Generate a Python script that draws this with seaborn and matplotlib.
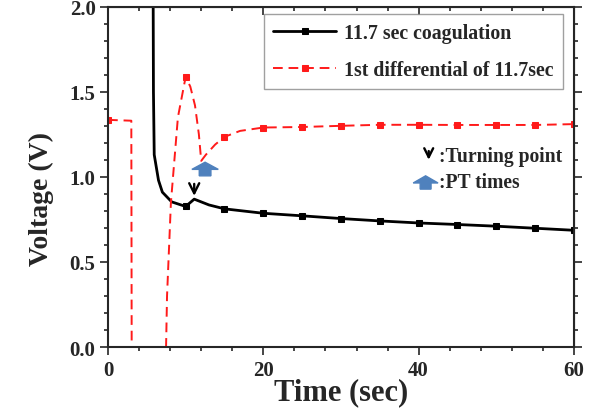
import matplotlib
matplotlib.use("Agg")
import matplotlib.pyplot as plt
import seaborn as sns
from matplotlib.ticker import MultipleLocator, FormatStrFormatter

# 11.7 sec coagulation curve (markers every 5 s from 10 s)
coag_time = [5.75, 5.85, 5.95, 6.5, 7.0, 8.2, 10, 11.1, 13, 15, 20, 25, 30, 35, 40, 45, 50, 55, 60]
coag_volt = [3.0, 1.5, 1.13, 0.98, 0.91, 0.853, 0.826, 0.869, 0.835, 0.812, 0.786, 0.771,
             0.755, 0.741, 0.729, 0.72, 0.71, 0.698, 0.686]
coag_marks = [6, 9, 10, 11, 12, 13, 14, 15, 16, 17, 18]

# 1st differential of the 11.7 sec curve
diff_time = [0, 3.0, 3.1, 6.9, 7.35, 7.6, 8.1, 9.0, 10, 10.6, 11.2, 11.7, 12.0, 12.6, 13.8, 15,
             17, 20, 25, 30, 35, 40, 45, 50, 55, 60]
diff_volt = [1.335, 1.33, -1.5, -1.5, -0.3, 0.3, 0.85, 1.35, 1.588, 1.53, 1.42, 1.25, 1.094,
             1.13, 1.19, 1.235, 1.27, 1.29, 1.293, 1.30, 1.306, 1.306, 1.305, 1.305, 1.305, 1.31]
diff_marks = [0, 8, 15, 17, 18, 19, 20, 21, 22, 23, 24, 25]

sns.set_style("ticks")
plt.rcParams['font.family'] = ['Liberation Serif', 'DejaVu Serif']
plt.rcParams['font.weight'] = 'bold'

fig = plt.figure(figsize=(5.89, 4.10), dpi=100)
ax = fig.add_axes([0.1834, 0.1512, 0.791, 0.830])

sns.lineplot(x=coag_time, y=coag_volt, ax=ax, sort=False, estimator=None, color='black',
             lw=2, marker='s', markersize=5, markevery=coag_marks, mec='black',
             label='11.7 sec coagulation')
sns.lineplot(x=diff_time, y=diff_volt, ax=ax, sort=False, estimator=None, color='#ff1a1a',
             lw=1.4, linestyle=(0, (5, 3)), marker='s', markersize=5, markevery=diff_marks,
             mec='#ff1a1a', label='1st differential of 11.7sec')

ax.set_xlim(0, 60)
ax.set_ylim(0, 2.0)
ax.xaxis.set_major_locator(MultipleLocator(20))
ax.xaxis.set_minor_locator(MultipleLocator(4))
ax.yaxis.set_major_locator(MultipleLocator(0.5))
ax.yaxis.set_minor_locator(MultipleLocator(0.1))
ax.yaxis.set_major_formatter(FormatStrFormatter('%.1f'))
ax.tick_params(which='both', direction='out', width=1.2, labelsize=15, pad=3)
ax.tick_params(which='major', length=6)
ax.tick_params(which='minor', length=3)
for s in ax.spines.values():
    s.set_linewidth(1.5)
    s.set_visible(True)

top = ax.secondary_xaxis('top')
top.xaxis.set_major_locator(MultipleLocator(20))
top.xaxis.set_minor_locator(MultipleLocator(4))
top.tick_params(which='both', direction='in', labeltop=False, width=1.2)
top.tick_params(which='major', length=6)
top.tick_params(which='minor', length=3)
right = ax.secondary_yaxis('right')
right.yaxis.set_major_locator(MultipleLocator(0.5))
right.yaxis.set_minor_locator(MultipleLocator(0.1))
right.tick_params(which='both', direction='out', labelright=False, width=1.2)
right.tick_params(which='major', length=6)
right.tick_params(which='minor', length=3)

ax.set_xlabel('Time (sec)', fontsize=22, fontweight='bold')
ax.set_ylabel('Voltage (V)', fontsize=20, fontweight='bold')
ax.xaxis.set_label_coords(0.5, -0.088)
ax.yaxis.set_label_coords(-0.117, 0.439)

leg = ax.legend(loc='upper right', bbox_to_anchor=(0.976, 0.978), borderaxespad=0,
                fontsize=14.3, handlelength=3.2, handletextpad=0.4, frameon=True,
                fancybox=False, edgecolor='#888888', borderpad=0.45, labelspacing=0.85)
leg.get_frame().set_linewidth(1.0)

# turning point / PT time markers on the curves
ax.annotate('', xy=(11.1, 0.872), xytext=(11.1, 0.975),
            arrowprops=dict(arrowstyle='->', lw=1.7, color='black', mutation_scale=18))
ax.arrow(12.5, 1.006, 0, 0.08, width=1.5, head_width=3.4, head_length=0.042,
         length_includes_head=True, color='#4f81bd', ec='#4f81bd')

# annotation key
ax.annotate('', xy=(41.3, 1.084), xytext=(41.3, 1.168),
            arrowprops=dict(arrowstyle='->', lw=1.7, color='black', mutation_scale=16))
ax.text(42.6, 1.125, ':Turning point', fontsize=14.1, fontweight='bold', va='center')
ax.arrow(40.9, 0.928, 0, 0.078, width=1.4, head_width=3.2, head_length=0.042,
         length_includes_head=True, color='#4f81bd', ec='#4f81bd')
ax.text(42.6, 0.97, ':PT times', fontsize=14.1, fontweight='bold', va='center')

fig.savefig('out.png', dpi=100)
